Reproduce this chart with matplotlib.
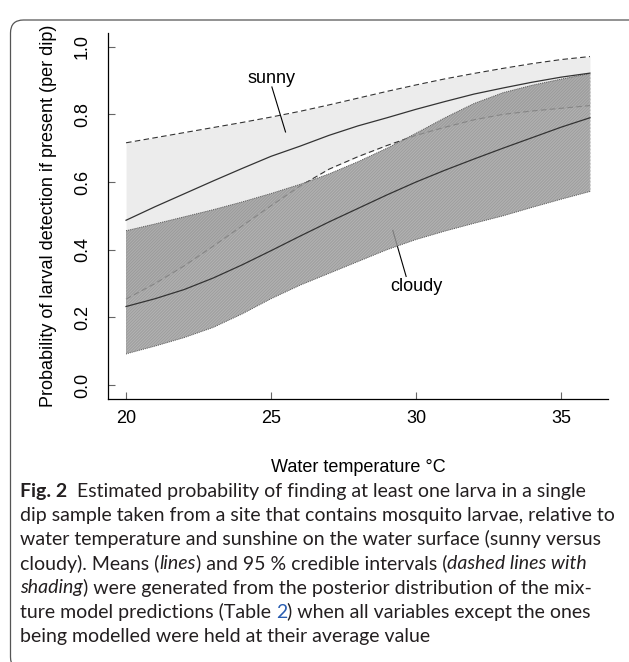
import numpy as np
import matplotlib
matplotlib.use("Agg")
import matplotlib.pyplot as plt
from matplotlib.patches import FancyBboxPatch

# water temperature (deg C)
temp = [20, 21, 22, 23, 24, 25, 26, 27, 28, 29, 30, 31, 32, 33, 34, 35, 36]

# sunny: mean and 95 % credible interval
sunny_mean = [0.487, 0.527, 0.565, 0.603, 0.640, 0.676, 0.706, 0.738, 0.766,
              0.790, 0.815, 0.838, 0.860, 0.878, 0.895, 0.910, 0.922]
sunny_upper = [0.716, 0.731, 0.746, 0.761, 0.776, 0.792, 0.809, 0.828, 0.848,
               0.868, 0.887, 0.905, 0.921, 0.936, 0.950, 0.962, 0.971]
sunny_lower = [0.254, 0.300, 0.352, 0.410, 0.470, 0.530, 0.588, 0.638, 0.675,
               0.708, 0.738, 0.762, 0.784, 0.800, 0.810, 0.818, 0.826]

# cloudy: mean and 95 % credible interval
cloudy_mean = [0.232, 0.255, 0.282, 0.316, 0.355, 0.397, 0.440, 0.482, 0.522,
               0.562, 0.600, 0.635, 0.668, 0.700, 0.731, 0.762, 0.790]
cloudy_upper = [0.456, 0.476, 0.497, 0.518, 0.541, 0.566, 0.593, 0.624, 0.660,
                0.700, 0.744, 0.790, 0.832, 0.864, 0.886, 0.904, 0.921]
cloudy_lower = [0.092, 0.115, 0.140, 0.170, 0.210, 0.255, 0.295, 0.330, 0.365,
                0.400, 0.430, 0.455, 0.478, 0.500, 0.525, 0.549, 0.572]

x_ticks = [20, 25, 30, 35]
y_ticks = [0.0, 0.2, 0.4, 0.6, 0.8, 1.0]

caption_lines = [
    [("Fig. 2", "bold"), ("  Estimated probability of finding at least one larva in a single", "normal")],
    [("dip sample taken from a site that contains mosquito larvae, relative to", "normal")],
    [("water temperature and sunshine on the water surface (sunny versus", "normal")],
    [("cloudy). Means (", "normal"), ("lines", "italic"), (") and 95 % credible intervals (", "normal"),
     ("dashed lines with", "italic")],
    [("shading", "italic"), (") were generated from the posterior distribution of the mix-", "normal")],
    [("ture model predictions (Table ", "normal"), ("2", "link"),
     (") when all variables except the ones", "normal")],
    [("being modelled were held at their average value", "normal")],
]

W, H = 629, 662
DPI = 100
plt.rcParams["font.family"] = ["Liberation Sans", "DejaVu Sans"]

fig = plt.figure(figsize=(W / DPI, H / DPI), dpi=DPI)
ax = fig.add_axes([107.5 / W, 1 - 398.5 / H, 501 / W, 365.3 / H])

# sunny band
ax.fill_between(temp, sunny_lower, sunny_upper, color="#ececec", linewidth=0, zorder=1)
ax.plot(temp, sunny_upper, color="#333333", lw=0.8, ls=(0, (5, 3)), zorder=2)
ax.plot(temp, sunny_lower, color="#333333", lw=0.8, ls=(0, (5, 3)), zorder=2)
ax.plot(temp, sunny_mean, color="#333333", lw=0.9, zorder=4)

# cloudy band, hatched
plt.rcParams["hatch.linewidth"] = 0.4
ax.fill_between(temp, cloudy_lower, cloudy_upper, facecolor=(0.76, 0.76, 0.76, 0.72),
                hatch="/" * 22, edgecolor=(0.40, 0.40, 0.40, 0.75), linewidth=0, zorder=3)
ax.plot(temp, cloudy_upper, color="#555555", lw=0.7, ls=(0, (1, 1)), zorder=3.5)
ax.plot(temp, cloudy_lower, color="#555555", lw=0.7, ls=(0, (1, 1)), zorder=3.5)
ax.plot([temp[0], temp[0]], [cloudy_lower[0], cloudy_upper[0]], color="#999999", lw=0.5,
        ls=(0, (1, 1)), zorder=3.5)
ax.plot([temp[-1], temp[-1]], [cloudy_lower[-1], cloudy_upper[-1]], color="#999999", lw=0.5,
        ls=(0, (1, 1)), zorder=3.5)
ax.plot(temp, cloudy_mean, color="#333333", lw=0.9, zorder=4)

# labels with pointer lines
ax.text(25.0, 0.907, "sunny", ha="center", va="center", fontsize=13)
ax.plot([25.03, 25.5], [0.881, 0.748], color="black", lw=0.8)
ax.text(30.0, 0.292, "cloudy", ha="center", va="center", fontsize=13)
ax.plot([29.2, 29.66], [0.457, 0.321], color="black", lw=0.8)

ax.set_xlim(19.36, 36.64)
ax.set_ylim(-0.04, 1.04)
ax.spines["top"].set_visible(False)
ax.spines["right"].set_visible(False)
for s in ("left", "bottom"):
    ax.spines[s].set_linewidth(0.9)
ax.set_xticks(x_ticks)
ax.set_yticks(y_ticks)
ax.set_yticklabels([f"{v:.1f}" for v in y_ticks], rotation=90, va="center")
ax.tick_params(direction="in", length=5, width=0.8, color="#666666", labelsize=13)
ax.tick_params(axis="x", pad=8)
ax.tick_params(axis="y", pad=12)
ax.set_xlabel("Water temperature \u00b0C", fontsize=13, labelpad=23)
ax.set_ylabel("Probability of larval detection if present (per dip)", fontsize=13, labelpad=12)

# rounded frame around the figure panel
frame = FancyBboxPatch((10.5, -8), 640, H - 12, boxstyle="round,pad=0,rounding_size=13",
                       transform=None, fill=False, edgecolor="#555555", lw=0.9)
fig.add_artist(frame)

# caption, drawn segment by segment; font size set so the second line spans the panel
fig.canvas.draw()
renderer = fig.canvas.get_renderer()
cap_font = ["Lato", "DejaVu Sans"]
probe = fig.text(0, 0, caption_lines[1][0][0], fontsize=10, family=cap_font)
cap_size = 10 * 594 / probe.get_window_extent(renderer=renderer).width
probe.remove()
y0 = 491
for i, line in enumerate(caption_lines):
    x = 20
    y = 1 - (y0 + i * 24.2) / H
    for txt, style in line:
        kw = dict(fontsize=cap_size, family=cap_font, va="center", ha="left", color="#231f20")
        if style == "bold":
            kw["fontweight"] = "bold"
        elif style == "italic":
            kw["fontstyle"] = "italic"
        elif style == "link":
            kw["color"] = "#2a5db0"
        t = fig.text(x / W, y, txt, **kw)
        bb = t.get_window_extent(renderer=renderer)
        x += bb.width

fig.savefig("out.png", dpi=DPI)
